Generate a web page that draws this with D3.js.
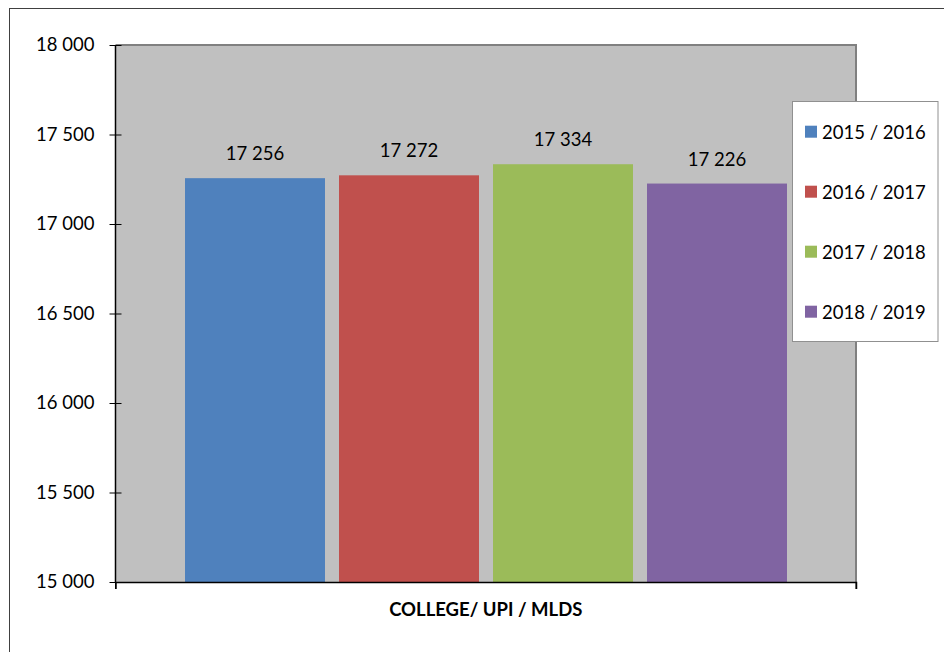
<!DOCTYPE html>
<html><head><meta charset="utf-8">
<script src="https://cdn.jsdelivr.net/npm/d3@7"></script>
<style>body{margin:0;background:#fff}svg{display:block}text{font-family:Lato,"Liberation Sans",sans-serif;fill:#000}</style>
</head><body><svg id="c" width="944" height="652"></svg>
<script>
const categories = ["COLLEGE/ UPI / MLDS"];
const seriesNames = ["2015 / 2016","2016 / 2017","2017 / 2018","2018 / 2019"];
const seriesValues = [17256, 17272, 17334, 17226];
const colors = ["#4F81BD","#C0504D","#9BBB59","#8064A2"];
const yTicks = [15000,15500,16000,16500,17000,17500,18000];

const svg = d3.select("#c");
const m = {l:115.5, t:45, r:856, b:582};
const loc = d3.formatLocale({decimal:",", thousands:" ", grouping:[3], currency:["",""]});
const fmt = loc.format(",d");

// outer border
svg.append("rect").attr("x",9.5).attr("y",8.5).attr("width",1000).attr("height",1000)
  .attr("fill","#fff").attr("stroke","#404040").attr("stroke-width",1);

const y = d3.scaleLinear().domain([15000,18000]).range([m.b,m.t]);
const x0 = d3.scaleBand().domain(categories).range([m.l,m.r]).paddingInner(0).paddingOuter(0);
const x1 = d3.scaleBand().domain(seriesNames).range([69.5, x0.bandwidth()-69]).paddingInner(0.0909);

// plot bg
svg.append("rect").attr("x",m.l).attr("y",m.t).attr("width",m.r-m.l).attr("height",m.b-m.t)
  .attr("fill","#C0C0C0");
svg.append("path").attr("d",`M${m.l},${m.t}H${m.r}V${m.b}`).attr("fill","none").attr("stroke","#808080").attr("stroke-width",2);

// bars
const g = svg.append("g").selectAll("g").data(categories).join("g").attr("transform",d=>`translate(${x0(d)},0)`);
g.selectAll("rect").data(seriesNames.map((s,i)=>({s,v:seriesValues[i],c:colors[i]}))).join("rect")
  .attr("x",d=>x1(d.s)).attr("y",d=>y(d.v)).attr("width",x1.bandwidth()).attr("height",d=>m.b-y(d.v))
  .attr("fill",d=>d.c);
g.selectAll("text").data(seriesNames.map((s,i)=>({s,v:seriesValues[i]}))).join("text")
  .attr("x",d=>x1(d.s)+x1.bandwidth()/2).attr("y",d=>y(d.v)-18).attr("text-anchor","middle")
  .attr("font-size",18.5).text(d=>fmt(d.v));

// y axis
const ya = svg.append("g").attr("transform",`translate(${m.l},0)`)
  .call(d3.axisLeft(y).tickValues(yTicks).tickFormat(fmt).tickSize(6).tickPadding(15));
ya.select(".domain").attr("stroke","#000").attr("stroke-width",1.5).attr("d",`M0,${m.t}V${m.b}`);
ya.selectAll(".tick line").attr("x1",6).attr("stroke","#000");
ya.selectAll(".tick text").attr("font-size",18.5).attr("font-family","Lato,'Liberation Sans',sans-serif").attr("fill","#000");

// x axis
const xa = svg.append("g").attr("transform",`translate(0,${m.b})`)
  .call(d3.axisBottom(x0).tickValues([]).tickSizeOuter(7));
xa.select(".domain").attr("stroke","#000").attr("stroke-width",1.5);
xa.selectAll(".xb").data([m.l,m.r]).join("line").attr("x1",d=>d).attr("x2",d=>d).attr("y1",0).attr("y2",7).attr("stroke","#000");
svg.selectAll(".cat").data(categories).join("text")
  .attr("x",d=>x0(d)+x0.bandwidth()/2).attr("y",615.5).attr("text-anchor","middle")
  .attr("font-size",18.5).attr("font-weight","bold").text(d=>d);

// legend
const lg = svg.append("g");
lg.append("rect").attr("x",792.5).attr("y",101.5).attr("width",145.5).attr("height",240)
  .attr("fill","#fff").attr("stroke","#909090");
const li = lg.selectAll(".li").data(seriesNames).join("g").attr("transform",(d,i)=>`translate(805,${131.7+i*60})`);
li.append("rect").attr("x",0).attr("y",-6).attr("width",12).attr("height",12).attr("fill",(d,i)=>colors[i]);
li.append("text").attr("x",17).attr("y",7).attr("font-size",18.5).text(d=>d);
</script></body></html>
